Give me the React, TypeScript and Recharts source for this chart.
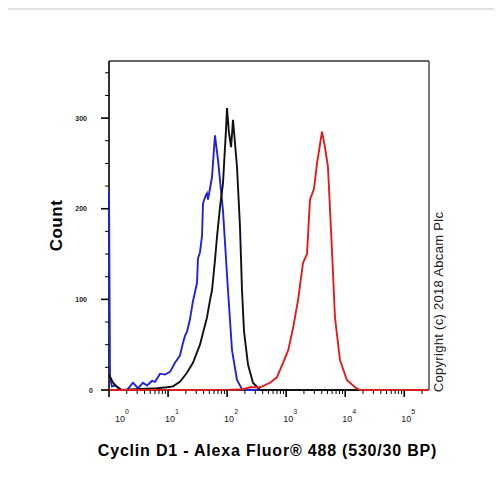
import { Line, LineChart, ReferenceLine, XAxis, YAxis } from 'recharts';

const X_MAX = 262144;
const Y_MAX = 363;

// [channel value, count]
const unlabelledBlack: Array<[number, number]> = [
  [1, 17], [1.17, 8], [1.54, 0], [6.49, 2], [9.56, 3], [12.1, 4], [15.9, 9], [20.9, 19],
  [26.4, 30], [34.7, 50], [45.6, 80], [51.3, 99], [55.5, 110], [62.3, 143], [67.4, 169],
  [70.1, 180], [75.9, 202], [85.1, 228], [95.7, 287], [99.6, 311], [107, 285], [116.6, 268],
  [125.9, 298], [147.1, 246], [165.3, 180], [178.7, 110], [193.2, 65], [225.7, 28], [274, 8],
  [360, 0], [262144, 0],
];

const isotypeBlue: Array<[number, number]> = [
  [1, 222], [1.04, 14], [1.12, 4], [1.26, 5], [1.42, 3], [1.66, 0], [2.02, 0], [2.55, 8],
  [3.1, 2], [3.76, 8], [4.4, 5], [5.35, 10], [6.01, 9], [7.31, 18], [8.87, 17], [10.8, 20],
  [13.1, 30], [15.9, 38], [17.9, 52], [19.4, 60], [20.9, 64], [23.5, 78], [26.4, 98],
  [30.9, 118], [32.1, 145], [34.7, 152], [37.6, 170], [39.1, 206], [43, 214], [45.6, 217],
  [47.5, 210], [55.5, 235], [62.3, 281], [70.1, 254], [85.1, 198], [103.5, 110], [121, 44],
  [147, 11], [178.7, 1], [244, 0], [262144, 0],
];

const cyclinRed: Array<[number, number]> = [
  [1, 0], [103.5, 0], [185.8, 1], [244, 3], [360, 3], [532, 8], [697, 14], [886, 30],
  [1083, 44], [1306, 68], [1588, 99], [1926, 140], [2251, 150], [2531, 210], [2961, 222],
  [3327, 250], [4043, 285], [4541, 268], [5104, 246], [5970, 154], [6708, 80], [8150, 33],
  [10660, 11], [14630, 3], [17780, 0], [262144, 0],
];

const decades = [1, 10, 100, 1000, 10000, 100000];
const minorSteps = [1, 2, 3, 4, 5, 6, 7, 8, 9];
const xTicks = decades.flatMap((d) => minorSteps.map((m) => m * d)).filter((v) => v <= X_MAX);
const yTicks = [0, 25, 50, 75, 100, 125, 150, 175, 200, 225, 250, 275, 300, 325, 350];
const yLabels = [0, 100, 200, 300];

const FONT = '"Liberation Sans", Arial, sans-serif';

const toRows = (pts: Array<[number, number]>) => pts.map(([x, y]) => ({ x, y }));

function XTick({ x, y, payload }: any) {
  const v = payload.value as number;
  const exp = Math.round(Math.log10(v));
  const major = decades.includes(v);
  return (
    <g>
      <line x1={x} x2={x} y1={y} y2={y + (major ? 7 : 4)} stroke="#000" strokeWidth={major ? 1.6 : 1} />
      {major && (
        <text x={x + (exp === 0 ? 6 : -3)} y={y + 32} fontSize={9} fill="#222" fontFamily={FONT}>
          10
          <tspan dy={-8} fontSize={7}>
            {exp}
          </tspan>
        </text>
      )}
    </g>
  );
}

function YTick({ x, y, payload }: any) {
  const v = payload.value as number;
  const major = yLabels.includes(v);
  return (
    <g>
      <line x1={x - (major ? 8 : 4)} x2={x} y1={y} y2={y} stroke="#000" strokeWidth={major ? 1.6 : 1} />
      {major && (
        <text
          x={x - (v === 0 ? 16 : 22)}
          y={y}
          dy={2.5}
          textAnchor="end"
          fontSize={7}
          fontWeight="bold"
          fill="#222"
          fontFamily={FONT}
        >
          {v}
        </text>
      )}
    </g>
  );
}

export default function App() {
  return (
    <div style={{ position: 'relative', width: 486, height: 466, fontFamily: FONT }}>
      <div
        style={{
          position: 'absolute',
          left: -5,
          top: 0,
          width: 499,
          height: 470,
          borderTop: '2px solid #e2e2e2',
          borderLeft: '2px solid #e2e2e2',
          pointerEvents: 'none',
        }}
      />
      <LineChart width={486} height={466} margin={{ top: 53, right: 65, left: 0, bottom: 54 }}>
        <XAxis
          dataKey="x"
          type="number"
          scale="log"
          domain={[1, X_MAX]}
          ticks={xTicks}
          interval={0}
          tickSize={0}
          tickMargin={0}
          tick={XTick}
          height={30}
          axisLine={{ stroke: '#000', strokeWidth: 1.6 }}
          label={{
            value: 'Cyclin D1 - Alexa Fluor® 488 (530/30 BP)',
            position: 'center',
            dx: -1.5,
            dy: 45,
            fontSize: 16,
            fontWeight: 'bold',
            fill: '#000',
            style: { letterSpacing: 0.8, fontFamily: FONT },
          }}
        />
        <YAxis
          dataKey="y"
          type="number"
          domain={[0, Y_MAX]}
          ticks={yTicks}
          interval={0}
          tickSize={0}
          tickMargin={0}
          tick={YTick}
          width={101}
          axisLine={{ stroke: '#000', strokeWidth: 1.6 }}
          label={{
            value: 'Count',
            position: 'center',
            angle: -90,
            dx: -2.5,
            fontSize: 17,
            fontWeight: 'bold',
            fill: '#000',
            style: { letterSpacing: 0.5, fontFamily: FONT },
          }}
        />
        <ReferenceLine y={Y_MAX} stroke="#333" strokeWidth={1.3} />
        <ReferenceLine x={X_MAX} stroke="#333" strokeWidth={1.3} />
        <Line data={toRows(isotypeBlue)} dataKey="y" type="linear" stroke="#2222dd" strokeWidth={1.9} dot={false} isAnimationActive={false} zIndex={700} />
        <Line data={toRows(unlabelledBlack)} dataKey="y" type="linear" stroke="#111" strokeWidth={1.9} dot={false} isAnimationActive={false} zIndex={710} />
        <Line data={toRows(cyclinRed)} dataKey="y" type="linear" stroke="#e31b1b" strokeWidth={1.9} dot={false} isAnimationActive={false} zIndex={720} />
      </LineChart>
      <div
        style={{
          position: 'absolute',
          left: 430,
          top: 294,
          transform: 'translate(-50%, -50%) rotate(-90deg)',
          whiteSpace: 'nowrap',
          fontSize: 13,
          letterSpacing: 0.3,
          color: '#222',
        }}
      >
        Copyright (c) 2018 Abcam Plc
      </div>
    </div>
  );
}
